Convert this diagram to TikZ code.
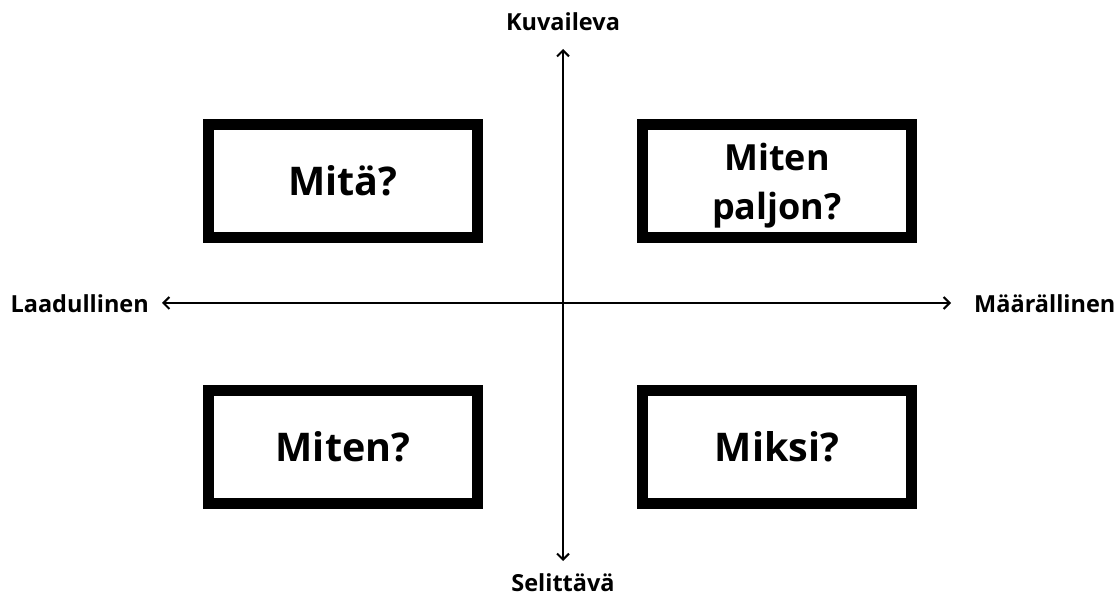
\documentclass[tikz,border=0pt]{standalone}
\usepackage{fontspec}
\setmainfont{Open Sans}
\usetikzlibrary{arrows.meta}
\tikzset{
  quad/.style={draw=black, line width=11pt, fill=white, minimum width=269pt, minimum height=113pt, inner sep=0pt, align=center},
  axis/.style={line width=2.2pt, {Straight Barb[length=6pt,width=12pt,line width=2pt]}-{Straight Barb[length=6pt,width=12pt,line width=2pt]}},
  axlabel/.style={font=\bfseries\fontsize{23.5}{27}\selectfont, inner sep=0pt},
  big/.style={font=\bfseries\fontsize{39.5}{44}\selectfont}
}
\begin{document}
\begin{tikzpicture}[x=1pt,y=-1pt]
\useasboundingbox (0,0) rectangle (1117,601);
\fill[white] (0,0) rectangle (1117,601);
% axis end points
\coordinate (left) at (162,303);
\coordinate (right) at (951,303);
\coordinate (top) at (563,49);
\coordinate (bottom) at (563,561);
\draw[axis] (left) -- (right);
\draw[axis] (top) -- (bottom);
% axis labels
\node[axlabel] (kuv) at (563,22) {Kuvaileva};
\node[axlabel] (sel) at (563,583) {Selittävä};
\node[axlabel, anchor=east] (laa) at (149,304) {Laadullinen};
\node[axlabel, anchor=west] (maa) at (974,304) {Määrällinen};
% quadrant boxes
\node[quad, big] (q1) at (343,181) {Mitä?};
\node[quad] (q2) at (777,181) {};
\node[font=\bfseries\fontsize{36}{49}\selectfont, align=center, inner sep=0pt]
  (q2text) at ([yshift=-5pt]q2.center) {Miten\\paljon?};
\node[quad, big] (q3) at (343,447) {Miten?};
\node[quad, big] (q4) at (777,447) {Miksi?};
\end{tikzpicture}
\end{document}
